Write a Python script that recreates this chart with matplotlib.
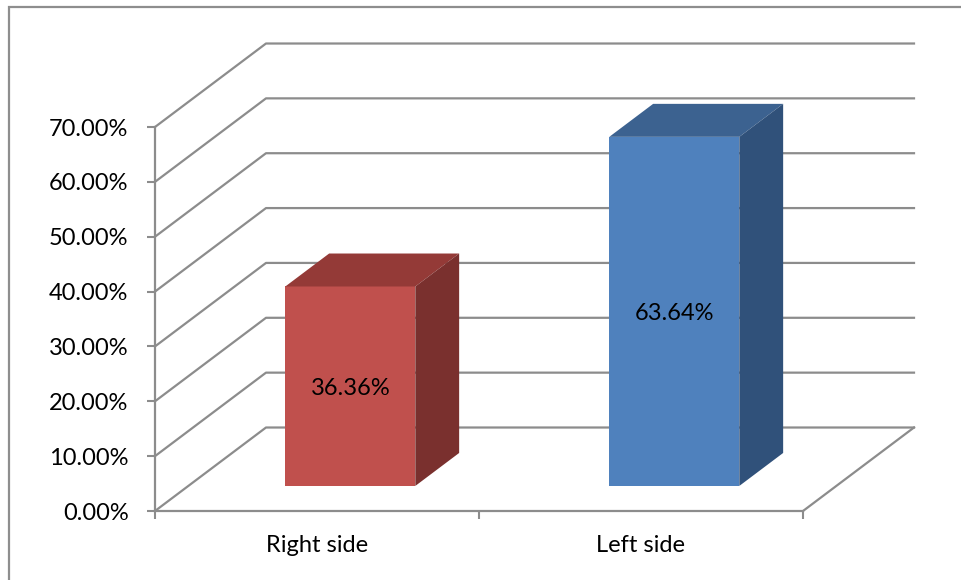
import matplotlib
matplotlib.use("Agg")
import matplotlib.pyplot as plt
from matplotlib.patches import Polygon

categories = ["Right side", "Left side"]
values = [36.36, 63.64]
labels = ["36.36%", "63.64%"]
front_colors = ["#C0504D", "#4F81BD"]
top_colors = ["#943A37", "#3C6290"]
side_colors = ["#7A302E", "#30517A"]
y_ticks = [0, 10, 20, 30, 40, 50, 60, 70]

W, H = 961, 580
GREY = "#8C8C8C"
# depth of the floor, in data units (111 px across, 83.5 px up)
DX = 111 / 324
DY = 83.5 / 5.486
BAR_W = 130 / 324
D0, D1 = 0.30, 0.695

plt.rcParams["font.family"] = ["Lato", "DejaVu Sans"]
fig = plt.figure(figsize=(W / 100, H / 100), dpi=100)
ax = fig.add_axes([155 / W, (H - 511) / H, 648 / W, 384 / H])
ax.set_xlim(0, 2)
ax.set_ylim(0, 70)
ax.patch.set_visible(False)


def proj(x, y, d):
    return (x + d * DX, y + d * DY)


# walls and floor
for t in y_ticks:
    xs, ys = zip(proj(0, t, 0), proj(0, t, 1), proj(2, t, 1))
    ax.plot(xs, ys, color=GREY, lw=1.6, clip_on=False, zorder=1)
xs, ys = zip(proj(2, 0, 1), proj(2, 0, 0))
ax.plot(xs, ys, color=GREY, lw=1.6, clip_on=False, zorder=1)

# bars, front face + top + side
for i, v in enumerate(values):
    x0 = i + 0.5 - BAR_W / 2
    x1 = i + 0.5 + BAR_W / 2
    front = [proj(x0, 0, D0), proj(x1, 0, D0), proj(x1, v, D0), proj(x0, v, D0)]
    top = [proj(x0, v, D0), proj(x1, v, D0), proj(x1, v, D1), proj(x0, v, D1)]
    side = [proj(x1, 0, D0), proj(x1, 0, D1), proj(x1, v, D1), proj(x1, v, D0)]
    ax.add_patch(Polygon(front, fc=front_colors[i], ec="none", clip_on=False, zorder=3))
    ax.add_patch(Polygon(top, fc=top_colors[i], ec="none", clip_on=False, zorder=3))
    ax.add_patch(Polygon(side, fc=side_colors[i], ec="none", clip_on=False, zorder=3))
    cx, cy = proj(i + 0.5, v / 2, D0)
    ax.annotate(labels[i], (cx, cy), xytext=(0, -1.5), textcoords="offset points",
                ha="center", va="center", fontsize=17, color="black", zorder=4)

for s in ["top", "right"]:
    ax.spines[s].set_visible(False)
for s in ["left", "bottom"]:
    ax.spines[s].set_color(GREY)
    ax.spines[s].set_linewidth(1.6)

ax.set_yticks(y_ticks)
ax.set_yticklabels([f"{t:.2f}%" for t in y_ticks])
ax.set_xticks([0, 1, 2])
ax.set_xticklabels([])
ax.set_xticks([0.5, 1.5], categories, minor=True)
ax.tick_params(axis="both", which="major", color=GREY, width=1.5, length=6, labelsize=17, pad=13)
ax.tick_params(axis="x", which="minor", length=0, labelsize=17, pad=17)

# outer chart frame
fig.add_artist(plt.Rectangle((9 / W, -0.05), (W + 20) / W, 1.05 - 7 / H, transform=fig.transFigure,
                             fc="none", ec="#8E8E8E", lw=1.6))

fig.savefig("out.png", dpi=100)
